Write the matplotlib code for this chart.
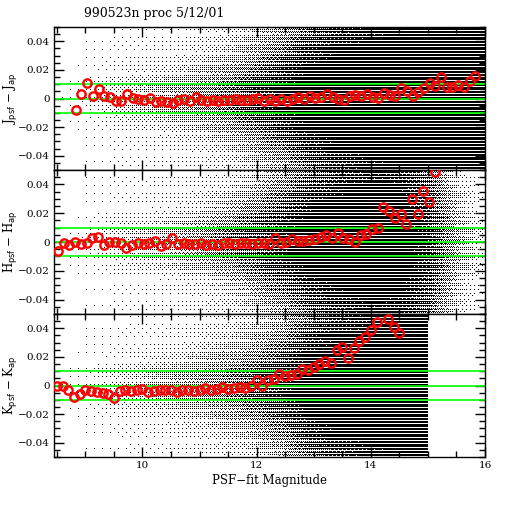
import numpy as np
import matplotlib
matplotlib.use('Agg')
import matplotlib.pyplot as plt
from matplotlib.ticker import MultipleLocator, FixedLocator, FixedFormatter

# srednie w binach 0.1 mag (czerwone kolka)
j_start, h_start, k_start = 8.83, 8.52, 8.50
bin_step = 0.1

j_offset = [-0.0079, 0.0033, 0.0107, 0.0016, 0.0063, 0.0019, 0.0012, -0.0014, -0.0016, 0.0033,
            0.0005, 0.0, -0.0007, 0.0002, -0.0023, -0.0016, -0.0023, -0.0030, -0.0009, -0.0002,
            -0.0016, 0.0009, -0.0009, -0.0014, -0.0009, -0.0019, -0.0009, -0.0009, -0.0002, -0.0012,
            -0.0007, -0.0002, 0.0005, -0.0016, -0.0005,
            -0.0014, -0.0005, -0.0014, -0.0005, 0.0011, -0.0005, 0.0018, 0.0005, 0.0007, 0.0028,
            0.0009, 0.0, -0.0009, 0.0020, 0.0023, 0.0014, 0.0032, 0.0011, 0.0002, 0.0037,
            0.0023, 0.0014, 0.0071, 0.0051, 0.0014, 0.0048, 0.0076, 0.0106, 0.0087, 0.0149,
            0.0080, 0.0080, 0.0092, 0.0083, 0.0122, 0.0156]

h_offset = [-0.0064, -0.0007, -0.0021, 0.0002, -0.0014, -0.0010, 0.0026, 0.0036, -0.0024, 0.0,
            0.0002, -0.0007, -0.0045, -0.0019, -0.0007, -0.0017, -0.0007, 0.0010, -0.0031, -0.0014,
            0.0031, -0.0017, -0.0010, -0.0014, -0.0012, -0.0007, -0.0019, -0.0014, -0.0019, -0.0007,
            -0.0007, -0.0017, -0.0007, -0.0010, -0.0012, -0.0010, -0.0005, -0.0015,
            0.0026, -0.0007, 0.0002, 0.0021, 0.0010, 0.0010, 0.0017, 0.0024, 0.0036, 0.0048,
            0.0026, 0.0062, 0.0029, 0.0021, 0.0002, 0.0048, 0.0057, 0.0088, 0.0100, 0.0240,
            0.0214, 0.0169, 0.0193, 0.0124, 0.0300, 0.0195, 0.0355, 0.0279, 0.0486]

k_offset = [0.0, -0.0005, -0.0030, -0.0083, -0.0060, -0.0032, -0.0039, -0.0048, -0.0053, -0.0057,
            -0.0085, -0.0037, -0.0034, -0.0037, -0.0030, -0.0023, -0.0046, -0.0037, -0.0030, -0.0034,
            -0.0032, -0.0044, -0.0034, -0.0030, -0.0039, -0.0032, -0.0018, -0.0032, -0.0023, -0.0009,
            -0.0023, -0.0018, -0.0009, -0.0014, -0.0005, 0.0040, 0.0, 0.0041, 0.0043, 0.0077,
            0.0064, 0.0070, 0.0077, 0.0118, 0.0105, 0.0127, 0.0150, 0.0168, 0.0155, 0.0245,
            0.0268, 0.0191, 0.0259, 0.0314, 0.0336, 0.0386, 0.0443, np.nan, 0.0468, 0.0409,
            0.0368]

# chmura gwiazd: gestosc czarnych punktow odczytana na oko (rdzen, szerokosc, tlo)
cloud_mag = [8.5, 9.0, 9.5, 10.0, 10.5, 11.0, 11.5, 12.0, 12.5, 13.0, 13.5, 14.0, 14.5, 15.0, 15.5, 16.0]
j_core = [0.0, 0.02, 0.1, 0.18, 0.28, 0.42, 0.58, 0.72, 0.84, 0.9, 0.92, 0.92, 0.92, 0.92, 0.92, 0.92]
j_width = [0.01, 0.01, 0.012, 0.012, 0.013, 0.015, 0.018, 0.024, 0.032, 0.045, 0.06, 0.075, 0.09, 0.11, 0.13, 0.15]
j_halo = [0.003, 0.008, 0.025, 0.035, 0.045, 0.06, 0.08, 0.11, 0.15, 0.2, 0.2, 0.2, 0.2, 0.2, 0.2, 0.2]
h_core = [0.0, 0.02, 0.1, 0.18, 0.28, 0.42, 0.58, 0.72, 0.84, 0.9, 0.92, 0.92, 0.9, 0.8, 0.35, 0.02]
h_width = [0.01, 0.01, 0.012, 0.012, 0.013, 0.015, 0.018, 0.024, 0.032, 0.045, 0.06, 0.075, 0.08, 0.06, 0.03, 0.02]
h_halo = [0.003, 0.008, 0.025, 0.035, 0.045, 0.06, 0.08, 0.11, 0.15, 0.2, 0.2, 0.2, 0.18, 0.12, 0.05, 0.01]
k_core = [0.0, 0.02, 0.08, 0.16, 0.26, 0.4, 0.53, 0.68, 0.8, 0.9, 0.92, 0.92, 0.92, 0.92, 0.0, 0.0]
k_width = [0.01, 0.01, 0.012, 0.012, 0.013, 0.015, 0.018, 0.022, 0.03, 0.045, 0.06, 0.075, 0.09, 0.1, 0.1, 0.1]
k_halo = [0.003, 0.008, 0.02, 0.03, 0.04, 0.05, 0.07, 0.09, 0.13, 0.2, 0.2, 0.2, 0.2, 0.2, 0.0, 0.0]
faint_limit = [16.0, 16.0, 15.0]

green_levels = [-0.01, 0.0, 0.01]
ytick_vals = [-0.04, -0.02, 0.0, 0.02, 0.04]
ytick_text = ['\u22120.04', '\u22120.02', '0', '0.02', '0.04']
xtick_vals = [10, 12, 14, 16]
ylabels = ['J$_{\\rm psf}$ \u2212 J$_{\\rm ap}$',
           'H$_{\\rm psf}$ \u2212 H$_{\\rm ap}$',
           'K$_{\\rm psf}$ \u2212 K$_{\\rm ap}$']
title = '990523n proc 5/12/01'
xlabel = 'PSF\u2212fit Magnitude'

XMIN, XMAX = 8.45, 16.0
YMIN, YMAX = -0.05, 0.05
QUANT = 0.001  # wartosci y sa skwantowane -> poziome pasy

plt.rcParams['font.family'] = ['DejaVu Serif']

# macierz Bayera 8x8 do ditheringu
bayer = np.array([[0, 2], [3, 1]])
for _ in range(2):
    bayer = np.block([[4 * bayer, 4 * bayer + 2], [4 * bayer + 3, 4 * bayer + 1]])
bayer = (bayer + 0.5) / bayer.size


def cloud_image(nx, ny, core, width, halo, limit):
    xs = XMIN + (np.arange(nx) + 0.5) * (XMAX - XMIN) / nx
    yedges = np.linspace(YMIN, YMAX, ny + 1)
    lev = np.floor(yedges / QUANT + 1e-9)
    has_level = (lev[1:] != lev[:-1]).astype(float)
    yc = 0.5 * (yedges[1:] + yedges[:-1])
    a = np.interp(xs, cloud_mag, core)
    s = np.interp(xs, cloud_mag, width)
    b = np.interp(xs, cloud_mag, halo)
    dens = a[None, :] * np.exp(-0.5 * (yc[:, None] / s[None, :]) ** 2) + b[None, :]
    dens = np.clip(dens, 0, 1) * has_level[:, None]
    dens[:, xs > limit] = 0
    thr = np.tile(bayer, (ny // 8 + 1, nx // 8 + 1))[:ny, :nx]
    return (dens > thr).astype(float)


fig = plt.figure(figsize=(5.12, 5.12), dpi=100)
W = 512.0
left, right = 54, 485
edges = [27, 170, 314, 457]

panels = [(j_start, j_offset, j_core, j_width, j_halo),
          (h_start, h_offset, h_core, h_width, h_halo),
          (k_start, k_offset, k_core, k_width, k_halo)]

for i, (start, offs, core, width, halo) in enumerate(panels):
    top, bot = edges[i], edges[i + 1]
    ax = fig.add_axes([left / W, 1 - bot / W, (right - left) / W, (bot - top) / W])
    img = cloud_image(right - left, bot - top, core, width, halo, faint_limit[i])
    ax.imshow(img, cmap='Greys', vmin=0, vmax=1, origin='lower', aspect='auto',
              extent=(XMIN, XMAX, YMIN, YMAX), interpolation='nearest', zorder=0)
    for g in green_levels:
        ax.axhline(g, color='#00ff00', lw=1.2, zorder=2)
    mags = np.round(start + bin_step * np.arange(len(offs)), 2)
    ax.plot(mags, offs, 'o', mfc='none', mec='red', ms=6, mew=1.7, zorder=3)
    ax.set_xlim(XMIN, XMAX)
    ax.set_ylim(YMIN, YMAX)

    ax.yaxis.set_major_locator(FixedLocator(ytick_vals))
    ax.yaxis.set_major_formatter(FixedFormatter(ytick_text))
    ax.yaxis.set_minor_locator(MultipleLocator(0.005))
    ax.xaxis.set_major_locator(FixedLocator(xtick_vals))
    ax.xaxis.set_minor_locator(MultipleLocator(0.5))
    ax.tick_params(which='both', direction='in', top=True, right=True, width=1,
                   labelsize=7.5, pad=3)
    ax.tick_params(which='major', length=7)
    ax.tick_params(which='minor', length=4)
    if i < 2:
        ax.tick_params(labelbottom=False)
    else:
        ax.set_xlabel(xlabel, fontsize=8.5, labelpad=3)
    ax.set_ylabel(ylabels[i], fontsize=8.5)
    ax.yaxis.set_label_coords(-0.08, 0.5)
    for sp in ax.spines.values():
        sp.set_linewidth(1)

fig.text(84 / W, 1 - 14 / W, title, fontsize=9, ha='left', va='center')

fig.savefig('out.png', dpi=100)
